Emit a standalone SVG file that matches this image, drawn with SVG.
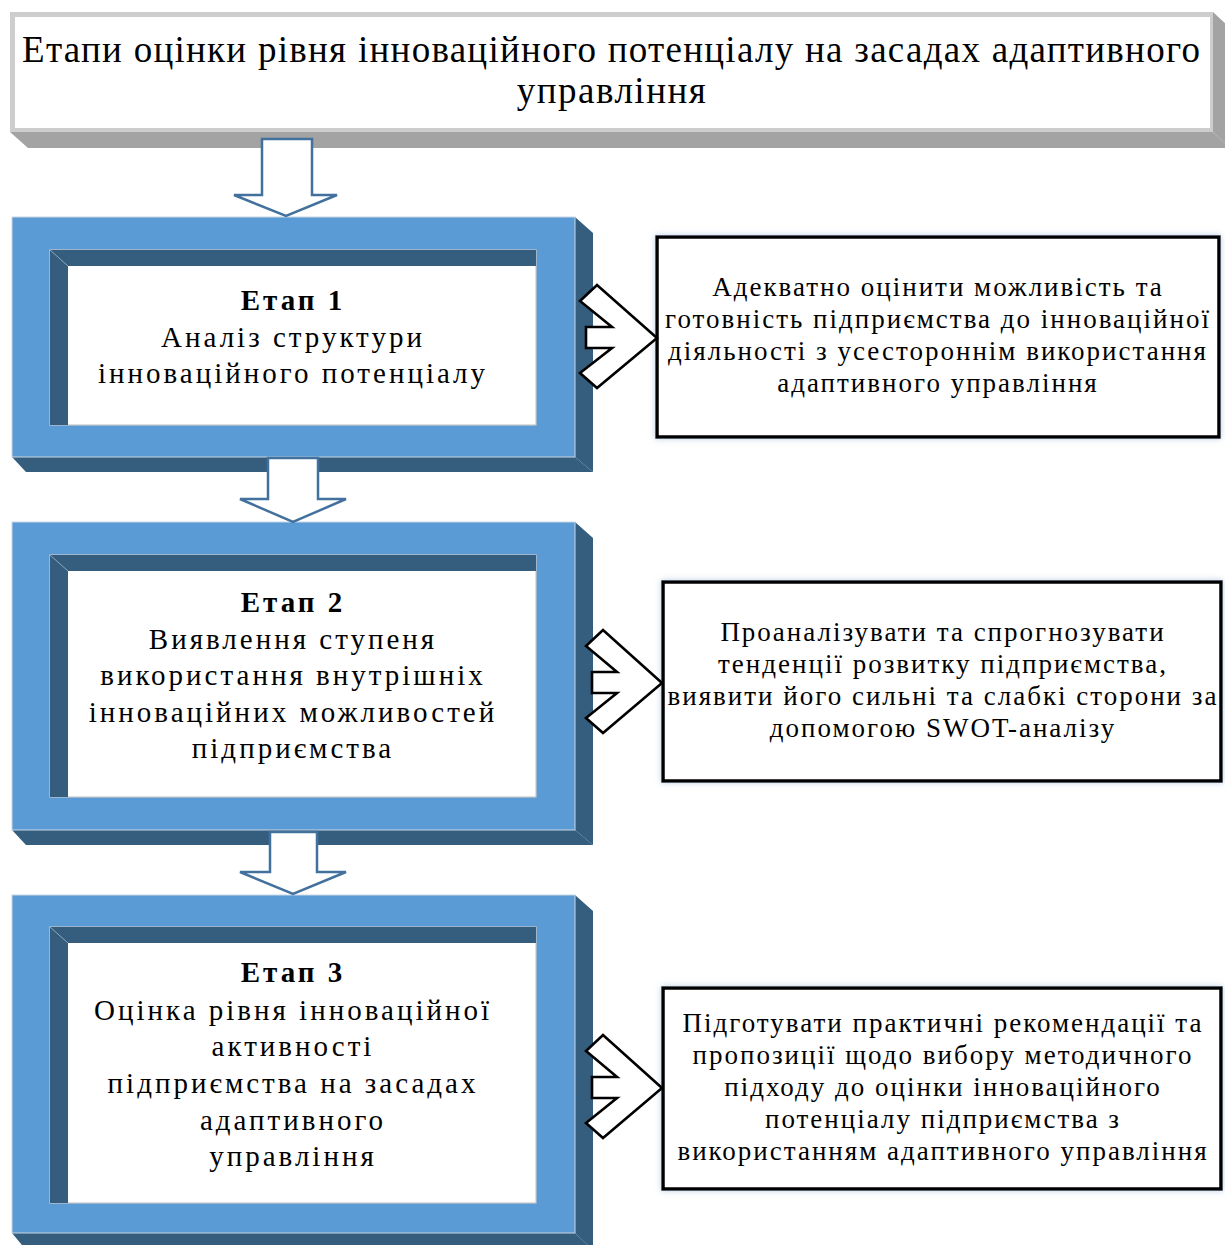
<svg xmlns="http://www.w3.org/2000/svg" width="1225" height="1245" viewBox="0 0 1225 1245">
<defs>
<style>
.bg{fill:#ffffff}
.tframe{fill:#cdcdcd}
.tbevel{fill:#a3a3a3}
.blue{fill:#5b9bd5;stroke:#c9d6e3;stroke-width:1}
.dark{fill:#355d7e}
.inner{fill:#ffffff;stroke:#c8c8c8;stroke-width:1.2}
.diag{stroke:#8fa7bd;stroke-width:1}
.arrow{fill:#ffffff;stroke:#41719c;stroke-width:2.5;stroke-linejoin:miter}
.chev{fill:#ffffff;stroke:#000000;stroke-width:2.6;stroke-linejoin:miter}
.rbox{fill:#ffffff;stroke:#000000;stroke-width:3.5}
.title{font-family:"Liberation Serif","Times New Roman",serif;font-size:37px;fill:#000}
.st{font-family:"Liberation Serif","Times New Roman",serif;font-size:29px;fill:#000;text-anchor:middle;letter-spacing:3px}
.stb{font-weight:bold}
.rt{font-family:"Liberation Serif","Times New Roman",serif;font-size:27px;fill:#000;text-anchor:middle;letter-spacing:2px}
</style>
<filter id="sh" x="-5%" y="-5%" width="110%" height="110%">
<feDropShadow dx="0" dy="0" stdDeviation="3" flood-color="#9db8d6" flood-opacity="0.7"/>
</filter>
</defs>
<rect class="bg" x="0" y="0" width="1225" height="1245"/>

<g id="title">
<polygon class="tbevel" points="10,132 1213,132 1230,148 28,148"/>
<polygon class="tbevel" points="1213,12 1230,28 1230,148 1213,132"/>
<rect class="tframe" x="10" y="12" width="1203" height="120"/>
<rect fill="#ffffff" x="15" y="17" width="1195" height="111"/>
<text class="title" x="22" y="62" textLength="1178" lengthAdjust="spacing">Етапи оцінки рівня інноваційного потенціалу на засадах адаптивного</text>
<text class="title" x="612" y="103" text-anchor="middle" letter-spacing="1.5">управління</text>
</g>

<g id="stage1">
<polygon class="dark" points="575,217 593,233 593,472 575,457"/>
<polygon class="dark" points="12,457 575,457 593,472 26,472"/>
<rect class="blue" x="12" y="217" width="563" height="240"/>
<rect class="inner" x="50" y="250" width="486" height="175"/>
<polygon class="dark" points="50,250 536,250 536,266 68,266 68,425 50,425"/>
<line class="diag" x1="50" y1="250" x2="68" y2="266"/>
<text class="st stb" x="293" y="310">Етап 1</text>
<text class="st" x="293" y="347">Аналіз структури</text>
<text class="st" x="293" y="383">інноваційного потенціалу</text>
</g>

<g id="stage2">
<polygon class="dark" points="575,522 593,538 593,845 575,830"/>
<polygon class="dark" points="12,830 575,830 593,845 26,845"/>
<rect class="blue" x="12" y="522" width="563" height="308"/>
<rect class="inner" x="50" y="555" width="486" height="242"/>
<polygon class="dark" points="50,555 536,555 536,571 68,571 68,797 50,797"/>
<line class="diag" x1="50" y1="555" x2="68" y2="571"/>
<text class="st stb" x="293" y="612">Етап 2</text>
<text class="st" x="293" y="649">Виявлення ступеня</text>
<text class="st" x="293" y="685">використання внутрішніх</text>
<text class="st" x="293" y="722">інноваційних можливостей</text>
<text class="st" x="293" y="758">підприємства</text>
</g>

<g id="stage3">
<polygon class="dark" points="575,895 593,911 593,1250 575,1233"/>
<polygon class="dark" points="12,1233 575,1233 593,1250 26,1250"/>
<rect class="blue" x="12" y="895" width="563" height="338"/>
<rect class="inner" x="50" y="927" width="486" height="276"/>
<polygon class="dark" points="50,927 536,927 536,943 68,943 68,1203 50,1203"/>
<line class="diag" x1="50" y1="927" x2="68" y2="943"/>
<text class="st stb" x="293" y="982">Етап 3</text>
<text class="st" x="293" y="1020">Оцінка рівня інноваційної</text>
<text class="st" x="293" y="1056">активності</text>
<text class="st" x="293" y="1093">підприємства на засадах</text>
<text class="st" x="293" y="1130">адаптивного</text>
<text class="st" x="293" y="1166">управління</text>
</g>

<g id="result1">
<rect class="rbox" x="657" y="237" width="562" height="200" filter="url(#sh)"/>
<text class="rt" x="938" y="296">Адекватно оцінити можливість та</text>
<text class="rt" x="938" y="328">готовність підприємства до інноваційної</text>
<text class="rt" x="938" y="360">діяльності з усестороннім використання</text>
<text class="rt" x="938" y="392">адаптивного управління</text>
</g>

<g id="result2">
<rect class="rbox" x="663" y="582" width="558" height="199" filter="url(#sh)"/>
<text class="rt" x="943" y="641">Проаналізувати та спрогнозувати</text>
<text class="rt" x="943" y="673">тенденції розвитку підприємства,</text>
<text class="rt" x="943" y="705">виявити його сильні та слабкі сторони за</text>
<text class="rt" x="943" y="737">допомогою SWOT-аналізу</text>
</g>

<g id="result3">
<rect class="rbox" x="663" y="988" width="558" height="201" filter="url(#sh)"/>
<text class="rt" x="943" y="1032">Підготувати практичні рекомендації та</text>
<text class="rt" x="943" y="1064">пропозиції щодо вибору методичного</text>
<text class="rt" x="943" y="1096">підходу до оцінки інноваційного</text>
<text class="rt" x="943" y="1128">потенціалу підприємства з</text>
<text class="rt" x="943" y="1160">використанням адаптивного управління</text>
</g>

<g id="connectors">
<polygon class="arrow" points="262,139 312,139 312,195 337,195 286,216 234,195 262,195"/>
<polygon class="arrow" points="268,458 318,458 318,499 346,499 293,522 240,499 268,499"/>
<polygon class="arrow" points="270,832 317,832 317,872 346,872 293,894 240,872 270,872"/>
<polygon class="chev" points="580,301 597,285 657,338 597,388 580,373 612,348 586,348 586,327 612,327"/>
<polygon class="chev" points="586,646 603,630 662,683 603,733 586,718 617,693 592,693 592,672 617,672"/>
<polygon class="chev" points="586,1051 603,1035 662,1088 603,1138 586,1123 617,1098 592,1098 592,1077 617,1077"/>
</g>
</svg>
